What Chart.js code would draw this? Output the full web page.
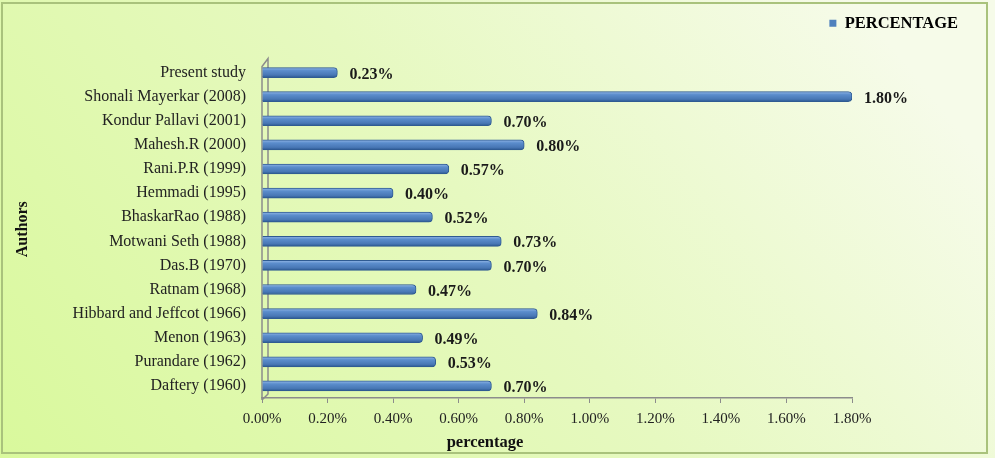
<!DOCTYPE html>
<html>
<head>
<meta charset="utf-8">
<script src="https://cdn.jsdelivr.net/npm/chart.js@4.4.1/dist/chart.umd.min.js"></script>
<style>
  html, body { margin: 0; padding: 0; background: #ffffff; }
  #wrap { width: 995px; height: 458px; }
</style>
</head>
<body>
<div id="wrap"><canvas id="chart" width="995" height="458"></canvas></div>
<script>
const authors = [
  'Present study',
  'Shonali Mayerkar (2008)',
  'Kondur Pallavi (2001)',
  'Mahesh.R (2000)',
  'Rani.P.R (1999)',
  'Hemmadi (1995)',
  'BhaskarRao (1988)',
  'Motwani Seth (1988)',
  'Das.B (1970)',
  'Ratnam (1968)',
  'Hibbard and Jeffcot (1966)',
  'Menon (1963)',
  'Purandare (1962)',
  'Daftery (1960)'
];
const percentage = [0.23, 1.80, 0.70, 0.80, 0.57, 0.40, 0.52, 0.73, 0.70, 0.47, 0.84, 0.49, 0.53, 0.70];
const xTicks = [0, 0.2, 0.4, 0.6, 0.8, 1.0, 1.2, 1.4, 1.6, 1.8];

const serif = '"Liberation Serif", "Times New Roman", serif';
const axisGrey = '#8c8c8c';

// page background, frame, the 3d wall on the left and the x title
const backdrop = {
  id: 'backdrop',
  beforeDraw(chart) {
    const { ctx, width, height } = chart;
    ctx.save();
    const g = ctx.createLinearGradient(0, height, width * 0.75, -height * 0.3);
    g.addColorStop(0, '#d9f99c');
    g.addColorStop(0.55, '#e6f9c0');
    g.addColorStop(1, '#f6fbe9');
    ctx.fillStyle = g;
    ctx.fillRect(0, 0, width, height);
    ctx.strokeStyle = '#a9c27c';
    ctx.lineWidth = 2;
    ctx.strokeRect(2, 3, 985, 450);
    ctx.restore();
  },
  beforeDatasetsDraw(chart) {
    const { ctx, chartArea: ca } = chart;
    const d = 6;
    ctx.save();
    ctx.strokeStyle = axisGrey;
    ctx.lineWidth = 1.5;
    ctx.beginPath();
    ctx.moveTo(ca.left, ca.bottom + 2);
    ctx.lineTo(ca.left, ca.top + 6);
    ctx.lineTo(ca.left + d, ca.top - 2);
    ctx.lineTo(ca.left + d, ca.bottom - 4);
    ctx.lineTo(ca.left, ca.bottom + 2);
    ctx.stroke();
    ctx.restore();
  },
  afterDraw(chart) {
    const { ctx } = chart;
    ctx.save();
    ctx.font = 'bold 16.5px ' + serif;
    ctx.fillStyle = '#111';
    ctx.textAlign = 'center';
    ctx.textBaseline = 'middle';
    ctx.fillText('percentage', 485, 443);
    ctx.restore();
  }
};

// value labels at the bar ends
const barValues = {
  id: 'barValues',
  afterDatasetsDraw(chart) {
    const { ctx } = chart;
    const meta = chart.getDatasetMeta(0);
    ctx.save();
    ctx.font = 'bold 16px ' + serif;
    ctx.fillStyle = '#1a1a1a';
    ctx.textBaseline = 'middle';
    meta.data.forEach((bar, i) => {
      ctx.fillText(percentage[i].toFixed(2) + '%', bar.x + 12, bar.y + 2);
    });
    ctx.restore();
  }
};

const barFill = (c) => {
  const chart = c.chart;
  const y = chart.scales.y;
  if (!y || !chart.chartArea || c.dataIndex === undefined) return '#4f81bd';
  const py = y.getPixelForValue(c.dataIndex);
  const g = chart.ctx.createLinearGradient(0, py - 5, 0, py + 5);
  g.addColorStop(0, '#93b7e6');
  g.addColorStop(0.3, '#5b8dcc');
  g.addColorStop(0.75, '#4877b5');
  g.addColorStop(1, '#2a5790');
  return g;
};

new Chart(document.getElementById('chart'), {
  type: 'bar',
  data: {
    labels: authors,
    datasets: [{
      label: 'PERCENTAGE',
      data: percentage,
      backgroundColor: barFill,
      borderColor: '#2f5b92',
      borderWidth: 1,
      borderRadius: 4,
      borderSkipped: 'start',
      barThickness: 10
    }]
  },
  options: {
    indexAxis: 'y',
    responsive: false,
    animation: false,
    layout: { padding: { top: 5, left: 0, right: 27, bottom: 0 } },
    plugins: {
      legend: {
        display: true,
        position: 'top',
        align: 'end',
        labels: {
          boxWidth: 7,
          boxHeight: 7,
          color: '#111',
          font: { family: serif, size: 16.5, weight: 'bold' },
          padding: 10,
          generateLabels: () => [{ text: 'PERCENTAGE', fillStyle: '#4f81bd', strokeStyle: '#4f81bd', lineWidth: 0 }]
        }
      },
      tooltip: { enabled: false }
    },
    scales: {
      x: {
        min: 0,
        max: 1.8,
        afterBuildTicks: (s) => { s.ticks = xTicks.map(v => ({ value: v })); },
        afterFit: (s) => { s.height = 60; },
        ticks: {
          color: '#222',
          font: { family: serif, size: 15 },
          padding: 7,
          callback: (v) => Number(v).toFixed(2) + '%'
        },
        grid: { display: true, drawOnChartArea: false, tickLength: 5, color: axisGrey },
        border: { display: true, color: axisGrey, width: 1.5 },
        title: { display: false }
      },
      xTop: {
        position: 'top',
        display: true,
        grid: { display: false },
        ticks: { display: false },
        border: { display: false },
        afterFit: (s) => { s.height = 19; }
      },
      y: {
        afterFit: (s) => { s.width = 262; },
        ticks: {
          color: '#222',
          font: { family: serif, size: 16 },
          padding: 8
        },
        grid: { display: false },
        border: { display: false },
        title: {
          display: true,
          text: 'Authors',
          color: '#111',
          font: { family: serif, size: 16, weight: 'bold' },
          padding: { top: 13 }
        }
      },
      yRight: {
        position: 'right',
        display: true,
        grid: { display: false },
        ticks: { display: false },
        border: { display: false },
        afterFit: (s) => { s.width = 116; }
      }
    }
  },
  plugins: [backdrop, barValues]
});
</script>
</body>
</html>
